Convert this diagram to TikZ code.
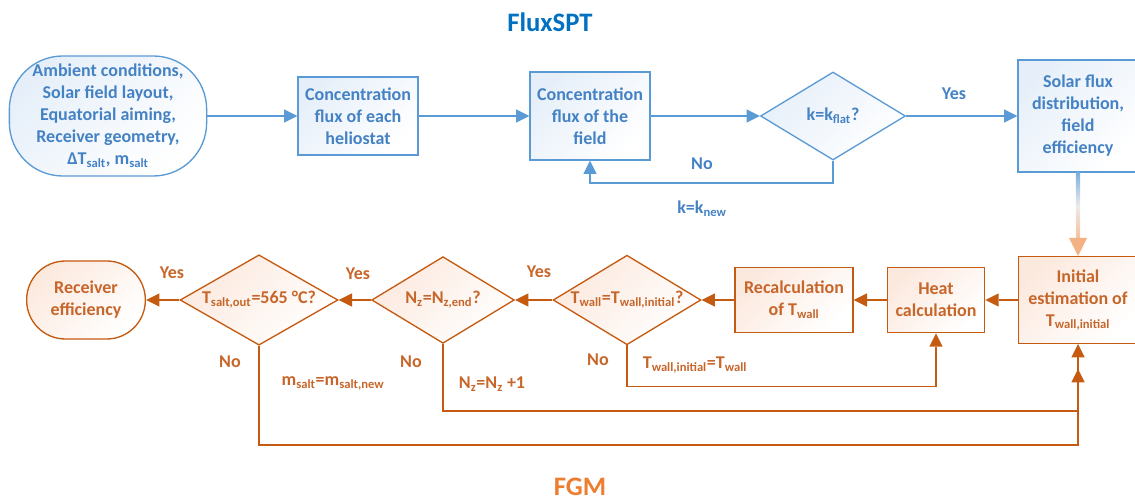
\documentclass[tikz,border=0pt]{standalone}
\usepackage{fontspec}
\setmainfont{Carlito}
\usetikzlibrary{shapes.geometric,arrows.meta}

\definecolor{fluxline}{RGB}{91,155,213}
\definecolor{fluxtext}{RGB}{68,130,196}
\definecolor{fluxfill}{RGB}{230,239,249}
\definecolor{fluxtitle}{RGB}{0,112,192}
\definecolor{fgmline}{RGB}{197,90,17}
\definecolor{fgmtext}{RGB}{199,102,42}
\definecolor{fgmfill}{RGB}{252,233,222}
\definecolor{fgmtitle}{RGB}{237,125,49}
\definecolor{peach}{RGB}{244,177,131}

\begin{document}
\begin{tikzpicture}[x=0.75pt,y=-0.75pt,
	every node/.style={font=\fontsize{13.5}{16.5}\selectfont\bfseries, align=center},
	title/.style={font=\fontsize{20}{22}\selectfont\bfseries, inner sep=0pt},
	fluxbox/.style={rectangle, draw=fluxline, line width=1pt, text=fluxtext,
		top color=fluxfill, bottom color=white, shading angle=45, inner sep=2pt},
	fluxterm/.style={fluxbox, rounded corners=40pt},
	fluxdec/.style={fluxbox, diamond, aspect=1.65, inner sep=1pt},
	fgmbox/.style={rectangle, draw=fgmline, line width=1pt, text=fgmtext,
		top color=fgmfill, bottom color=white, shading angle=45, inner sep=2pt},
	fgmterm/.style={fgmbox, rounded corners=29pt},
	fgmdec/.style={fgmbox, diamond, aspect=1.65, inner sep=1pt},
	fluxarrow/.style={draw=fluxline, line width=1.5pt,
		-{Triangle[length=10pt,width=10pt,line width=0pt]}},
	fgmarrow/.style={draw=fgmline, line width=1.2pt,
		-{Triangle[length=10pt,width=10pt,line width=0pt]}},
	fluxlabel/.style={text=fluxtext},
	fgmlabel/.style={text=fgmtext}]
	\useasboundingbox (0,0) rectangle (1135,502);

	% FluxSPT part
	\node[title, text=fluxtitle] (fluxspt) at (550,22) {FluxSPT};
	\node[fluxterm, minimum width=148pt, minimum height=90pt] (input) at (108,116)
		{Ambient conditions,\\Solar field layout,\\Equatorial aiming,\\Receiver geometry,\\ΔT\textsubscript{salt}, m\textsubscript{salt}};
	\node[fluxbox, minimum width=90pt, minimum height=58.5pt] (each) at (358,116)
		{Concentration\\flux of each\\heliostat};
	\node[fluxbox, minimum width=90pt, minimum height=66pt] (field) at (590,116)
		{Concentration\\flux of the\\field};
	\node[fluxdec, minimum width=108.75pt, minimum height=66pt] (flat) at (833,116)
		{k=k\textsubscript{flat}?};
	\node[fluxbox, minimum width=90pt, minimum height=84pt] (solar) at (1078,116)
		{Solar flux\\distribution,\\field\\efficiency};

	\draw[fluxarrow] (input) -- (each);
	\draw[fluxarrow] (each) -- (field);
	\draw[fluxarrow] (field) -- (flat);
	\draw[fluxarrow] (flat) -- (solar);
	\draw[fluxarrow] (flat.south) -- ++(0,22) -| (field.south);

	\node[fluxlabel] (yesflat) at (954,94) {Yes};
	\node[fluxlabel] (noflat) at (702,164) {No};
	\node[fluxlabel] (knew) at (702,209) {k=k\textsubscript{new}};

	% FGM part
	\node[title, text=fgmtitle] (fgm) at (580,487) {FGM};
	\node[fgmbox, minimum width=89pt, minimum height=65pt] (init) at (1078,300)
		{Initial\\estimation of\\T\textsubscript{wall,initial}};
	\node[fgmbox, minimum width=73pt, minimum height=49pt] (heat) at (936,300)
		{Heat\\calculation};
	\node[fgmbox, minimum width=88.5pt, minimum height=49pt] (recalc) at (794,300)
		{Recalculation\\of T\textsubscript{wall}};
	\node[fgmdec, minimum width=107pt, minimum height=65pt] (conv) at (627,300)
		{T\textsubscript{wall}=T\textsubscript{wall,initial}?};
	\node[fgmdec, minimum width=107pt, minimum height=65pt] (zend) at (443,300)
		{N\textsubscript{z}=N\textsubscript{z,end}?};
	\node[fgmdec, minimum width=118.5pt, minimum height=65pt] (tout) at (259,300)
		{T\textsubscript{salt,out}=565 °C?};
	\node[fgmterm, minimum width=89pt, minimum height=58.5pt] (eff) at (86,300)
		{Receiver\\efficiency};

	% shaded link between the two parts
	\shade[top color=fluxline!80, bottom color=peach!80, middle color=black!8]
		([xshift=-1.6pt]solar.south) rectangle ([xshift=1.6pt,yshift=13pt]init.north);
	\fill[peach] (init.north) -- ++(-9,-18) -- ++(18,0) -- cycle;

	\draw[fgmarrow] (init) -- (heat);
	\draw[fgmarrow] (heat) -- (recalc);
	\draw[fgmarrow] (recalc) -- (conv);
	\draw[fgmarrow] (conv) -- (zend);
	\draw[fgmarrow] (zend) -- (tout);
	\draw[fgmarrow] (tout) -- (eff);

	\coordinate (nzin) at ([yshift=-18.75pt]init.south);
	\draw[fgmarrow] (conv.south) -- ++(0,41) -| (heat.south);
	\draw[fgmarrow] (zend.south) -- ++(0,67) -| (nzin);
	\draw[fgmarrow] (tout.south) -- ++(0,99) -| (init.south);

	\node[fgmlabel] (yesconv) at (539,272) {Yes};
	\node[fgmlabel] (yeszend) at (358,274) {Yes};
	\node[fgmlabel] (yestout) at (172,273) {Yes};
	\node[fgmlabel] (noconv) at (598,360) {No};
	\node[fgmlabel] (nozend) at (411,362) {No};
	\node[fgmlabel] (notout) at (230,362) {No};
	\node[fgmlabel] (twallnew) at (695,365) {T\textsubscript{wall,initial}=T\textsubscript{wall}};
	\node[fgmlabel] (nznext) at (492,384) {N\textsubscript{z}=N\textsubscript{z} +1};
	\node[fgmlabel] (msaltnew) at (333,383) {m\textsubscript{salt}=m\textsubscript{salt,new}};
\end{tikzpicture}
\end{document}
